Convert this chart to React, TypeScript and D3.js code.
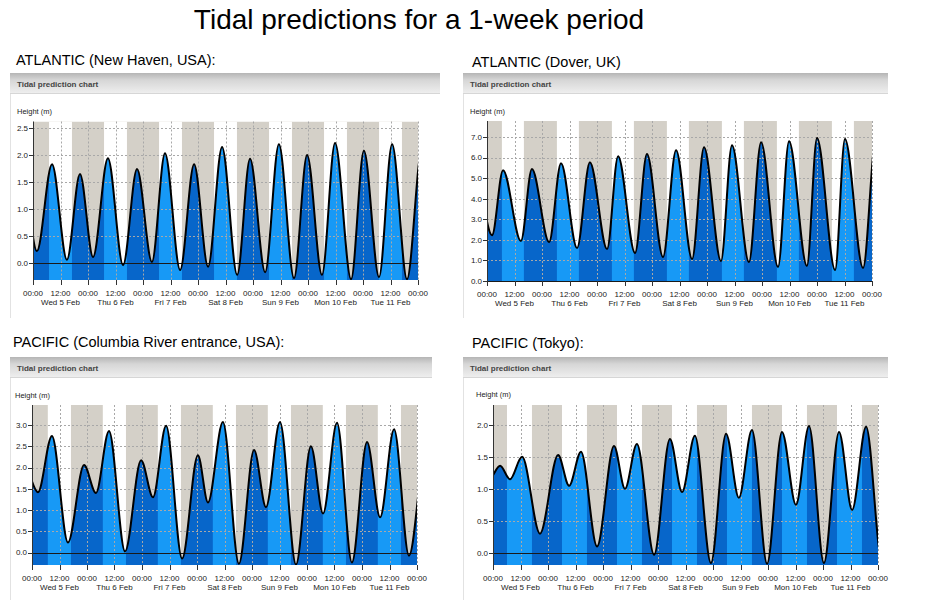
import React from 'react';
import * as d3 from 'd3';

// turning points of the tide (hours from 00:00 Wed 5 Feb, height in m)
const newHavenHours = [-11.0, -4.8, 1.7, 8.3, 14.8, 20.5, 26.2, 32.7, 39.3, 45.4, 51.9, 57.6, 64.2, 70.3, 76.4, 82.5, 89.1, 94.7, 101.3, 107.3, 113.9, 119.6, 126.1, 131.8, 138.8, 144.4, 151.0, 156.7, 163.2, 169.7, 176.0];
const newHavenHeights = [0.1, 1.75, 0.22, 1.83, 0.06, 1.65, 0.11, 1.94, -0.04, 1.74, 0.02, 2.03, -0.13, 1.83, -0.07, 2.15, -0.22, 1.93, -0.17, 2.2, -0.28, 2.0, -0.22, 2.22, -0.3, 2.08, -0.26, 2.2, -0.3, 2.1, -0.3];

const doverHours = [-12.5, -5.2, 2.2, 7.0, 14.8, 19.6, 27.1, 32.3, 39.3, 44.9, 52.4, 57.2, 64.6, 69.8, 76.8, 82.5, 89.5, 94.7, 102.1, 106.9, 114.3, 119.6, 127.0, 131.8, 139.6, 144.0, 151.9, 156.2, 164.1, 169.7, 177.0];
const doverHeights = [2.3, 5.3, 2.23, 5.39, 1.94, 5.44, 1.89, 5.73, 1.6, 5.78, 1.55, 6.07, 1.36, 6.17, 1.17, 6.36, 1.07, 6.5, 0.97, 6.6, 0.92, 6.75, 0.68, 6.8, 0.73, 6.95, 0.53, 6.9, 0.63, 6.9, 0.5];

const columbiaHours = [-10.0, -3.1, 2.6, 8.7, 15.7, 22.7, 27.9, 33.6, 40.6, 47.6, 52.8, 58.5, 65.5, 72.4, 76.8, 83.3, 90.3, 96.9, 102.1, 108.2, 115.2, 121.7, 127.0, 133.1, 139.6, 146.2, 151.9, 158.0, 164.5, 172.4, 178.0];
const columbiaHeights = [0.4, 2.0, 1.42, 2.74, 0.24, 2.06, 1.4, 2.86, 0.03, 2.17, 1.3, 2.98, -0.14, 2.29, 1.18, 3.07, -0.26, 2.41, 1.07, 3.07, -0.28, 2.5, 0.92, 3.05, -0.23, 2.6, 0.83, 2.9, -0.07, 2.7, 0.8];

const tokyoHours = [-6.5, -1.7, 3.1, 7.4, 12.7, 20.5, 28.4, 33.2, 38.4, 45.4, 52.8, 57.6, 62.8, 70.3, 77.2, 82.5, 88.1, 95.1, 101.7, 107.3, 113.0, 119.6, 126.1, 132.2, 137.9, 144.4, 151.0, 156.7, 162.8, 169.7, 176.5];
const tokyoHeights = [1.3, 1.15, 1.36, 1.15, 1.5, 0.3, 1.53, 1.05, 1.58, 0.1, 1.67, 1.0, 1.7, -0.03, 1.78, 0.95, 1.83, -0.16, 1.86, 0.86, 1.92, -0.17, 1.89, 0.75, 1.98, -0.16, 1.89, 0.67, 1.97, -0.12, 1.9];

// sunrise / sunset (hour of day)
const newHavenDaylight = [7.0, 17.0];
const doverDaylight = [6.5, 16.1];
const columbiaDaylight = [6.9, 17.0];
const tokyoDaylight = [6.1, 17.0];

const newHavenTicks = [0, 0.5, 1, 1.5, 2, 2.5];
const doverTicks = [0, 1, 2, 3, 4, 5, 6, 7];
const columbiaTicks = [0, 0.5, 1, 1.5, 2, 2.5, 3];
const tokyoTicks = [0, 0.5, 1, 1.5, 2];

const dayLabels = ['Wed 5 Feb', 'Thu 6 Feb', 'Fri 7 Feb', 'Sat 8 Feb', 'Sun 9 Feb', 'Mon 10 Feb', 'Tue 11 Feb'];
const hourLabels = ['00:00', '12:00'];
const timeTicks = [0, 12, 24, 36, 48, 60, 72, 84, 96, 108, 120, 132, 144, 156, 168];

const NIGHT = '#d4d0c8';
const DARK = '#0766ca';
const LIGHT = '#1799f6';
const FONT = 'Liberation Sans, Arial, sans-serif';

const panels = [
  { id: 'nh', title: 'ATLANTIC (New Haven, USA):', tx: 16, ty: 65, fx: 10, fy: 73, fw: 430, fh: 245, hx: 17, hy: 114,
    x0: 33, x1: 418, top: 121.5, bottom: 280, yDomain: [-0.315, 2.62], yTicks: newHavenTicks,
    hours: newHavenHours, heights: newHavenHeights, daylight: newHavenDaylight },
  { id: 'dv', title: 'ATLANTIC (Dover, UK)', tx: 472, ty: 67, fx: 463, fy: 73, fw: 425, fh: 245, hx: 470, hy: 114,
    x0: 487, x1: 872, top: 121, bottom: 281, yDomain: [0, 7.78], yTicks: doverTicks,
    hours: doverHours, heights: doverHeights, daylight: doverDaylight },
  { id: 'cr', title: 'PACIFIC (Columbia River entrance, USA):', tx: 13, ty: 347, fx: 10, fy: 357, fw: 422, fh: 243, hx: 15, hy: 398,
    x0: 32, x1: 417, top: 405, bottom: 565, yDomain: [-0.29, 3.47], yTicks: columbiaTicks,
    hours: columbiaHours, heights: columbiaHeights, daylight: columbiaDaylight },
  { id: 'tk', title: 'PACIFIC (Tokyo):', tx: 472, ty: 348, fx: 463, fy: 357, fw: 425, fh: 243, hx: 476, hy: 397,
    x0: 493, x1: 878, top: 405, bottom: 565, yDomain: [-0.19, 2.31], yTicks: tokyoTicks,
    hours: tokyoHours, heights: tokyoHeights, daylight: tokyoDaylight },
];

type Panel = typeof panels[number];

function TidePanel({ p }: { p: Panel }) {
  const x = d3.scaleLinear().domain([0, 168]).range([p.x0, p.x1]);
  const y = d3.scaleLinear().domain(p.yDomain).range([p.bottom, p.top]);
  const pts: [number, number][] = p.hours.map((h, i) => [h, p.heights[i]]);

  const area = d3.area<[number, number]>()
    .x(d => x(d[0]))
    .y0(p.bottom)
    .y1(d => y(d[1]))
    .curve(d3.curveMonotoneX);
  const line = d3.line<[number, number]>()
    .x(d => x(d[0]))
    .y(d => y(d[1]))
    .curve(d3.curveMonotoneX);

  const days = d3.range(0, 7);
  const dayRects = days.map(d => {
    const a = x(d * 24 + p.daylight[0]);
    const b = x(d * 24 + p.daylight[1]);
    return <rect key={d} x={a} y={p.top} width={b - a} height={p.bottom - p.top} />;
  });
  const fmt = d3.format('.1f');
  const w = p.x1 - p.x0;
  const h = p.bottom - p.top;

  return (
    <g fontFamily={FONT}>
      <defs>
        <clipPath id={`plot-${p.id}`}>
          <rect x={p.x0} y={p.top} width={w} height={h} />
        </clipPath>
        <clipPath id={`fill-${p.id}`}>
          <path d={area(pts) || ''} />
        </clipPath>
        <linearGradient id={`hdr-${p.id}`} x1="0" y1="0" x2="0" y2="1">
          <stop offset="0" stopColor="#b5b5b5" />
          <stop offset="0.35" stopColor="#d6d6d6" />
          <stop offset="1" stopColor="#eeeeee" />
        </linearGradient>
      </defs>

      <text x={p.tx} y={p.ty} fontSize={14.5} fill="#000">{p.title}</text>

      {/* panel frame */}
      <line x1={p.fx + 0.5} x2={p.fx + 0.5} y1={p.fy} y2={p.fy + p.fh} stroke="#e2e2e2" />
      <rect x={p.fx} y={p.fy} width={p.fw} height={20} fill={`url(#hdr-${p.id})`} />
      <line x1={p.fx} x2={p.fx + p.fw} y1={p.fy + 20.5} y2={p.fy + 20.5} stroke="#d6d6d6" />
      <text x={p.fx + 7} y={p.fy + 13.5} fontSize={8} fontWeight="bold" fill="#444">Tidal prediction chart</text>
      <text x={p.hx} y={p.hy} fontSize={7.5} fill="#222">Height (m)</text>

      <g clipPath={`url(#plot-${p.id})`}>
        <rect x={p.x0} y={p.top} width={w} height={h} fill={NIGHT} />
        <g fill="#fff">{dayRects}</g>
        <g clipPath={`url(#fill-${p.id})`}>
          <rect x={p.x0} y={p.top} width={w} height={h} fill={DARK} />
          <g fill={LIGHT}>{dayRects}</g>
        </g>
      </g>

      {/* grid */}
      <g stroke="#a8a8a8" strokeDasharray="2,2" strokeWidth={1}>
        {timeTicks.slice(1).map(t => (
          <line key={t} x1={Math.round(x(t)) + 0.5} x2={Math.round(x(t)) + 0.5} y1={p.top} y2={p.bottom} />
        ))}
        {p.yTicks.filter(v => v !== 0).map(v => (
          <line key={v} x1={p.x0} x2={p.x1} y1={Math.round(y(v)) + 0.5} y2={Math.round(y(v)) + 0.5} />
        ))}
      </g>

      <line x1={p.x0} x2={p.x1} y1={Math.round(y(0)) + 0.5} y2={Math.round(y(0)) + 0.5} stroke="#1a1a1a" strokeWidth={1} />

      <g clipPath={`url(#plot-${p.id})`}>
        <path d={line(pts) || ''} fill="none" stroke="#000" strokeWidth={2} />
      </g>

      {/* y axis */}
      <line x1={p.x0 + 0.5} x2={p.x0 + 0.5} y1={p.top} y2={p.bottom + 5} stroke="#333" />
      {p.yTicks.map(v => (
        <g key={v}>
          <line x1={p.x0 - 4} x2={p.x0} y1={Math.round(y(v)) + 0.5} y2={Math.round(y(v)) + 0.5} stroke="#333" />
          <text x={p.x0 - 5} y={y(v)} dy="0.35em" fontSize={8} textAnchor="end" fill="#222">{fmt(v)}</text>
        </g>
      ))}

      {/* x axis */}
      {timeTicks.map((t, i) => (
        <g key={t}>
          <line x1={Math.round(x(t)) + 0.5} x2={Math.round(x(t)) + 0.5} y1={p.bottom} y2={p.bottom + 5} stroke="#333" />
          <text x={x(t)} y={p.bottom + 16} fontSize={8} textAnchor="middle" fill="#222">{hourLabels[i % 2]}</text>
        </g>
      ))}
      {dayLabels.map((d, i) => (
        <text key={d} x={x(i * 24 + 12)} y={p.bottom + 25} fontSize={8} textAnchor="middle" fill="#222">{d}</text>
      ))}
    </g>
  );
}

export default function App() {
  return (
    <svg width={934} height={600} style={{ position: 'absolute', left: 0, top: 0, background: '#fff' }}>
      <rect width={934} height={600} fill="#fff" />
      <text x={419} y={29} fontSize={28} textAnchor="middle" fontFamily={FONT} fill="#000">
        Tidal predictions for a 1-week period
      </text>
      {panels.map(p => <TidePanel key={p.id} p={p} />)}
    </svg>
  );
}
